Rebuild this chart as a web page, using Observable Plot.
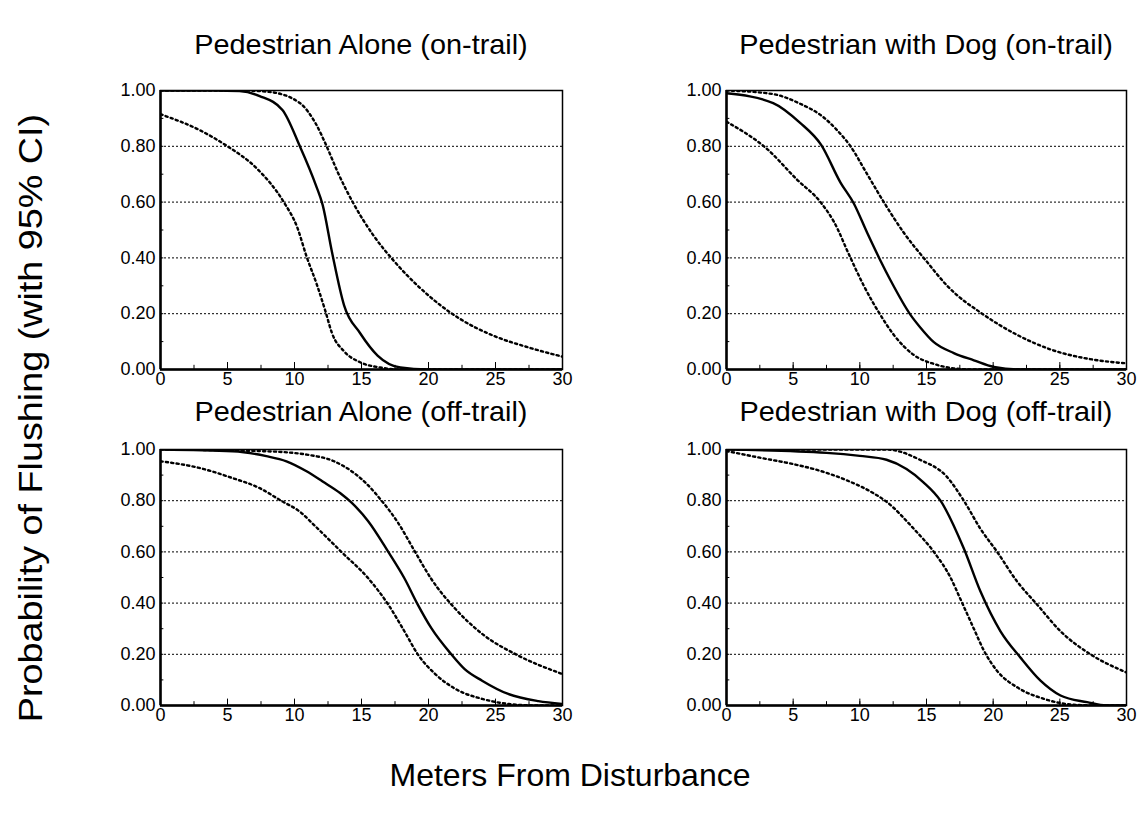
<!DOCTYPE html>
<html>
<head>
<meta charset="utf-8">
<script src="https://cdn.jsdelivr.net/npm/d3@7"></script>
<script src="https://cdn.jsdelivr.net/npm/@observablehq/plot@0.6"></script>
<style>
  html, body { margin: 0; padding: 0; background: #fff; }
  #wrap { position: relative; width: 1140px; height: 828px; background: #fff; font-family: "Liberation Sans", Arial, sans-serif; color: #000; overflow: hidden; }
  .panel { position: absolute; }
  .title { position: absolute; font-size: 28px; text-align: center; white-space: nowrap; transform: translate(-50%, -50%) scaleX(1.03); }
  #xlabel { position: absolute; left: 570px; top: 775px; font-size: 32px; transform: translate(-50%, -50%); white-space: nowrap; }
  #ylabel { position: absolute; left: 30px; top: 418px; font-size: 34px; transform: translate(-50%, -50%) rotate(-90deg) scale(1.11, 1); white-space: nowrap; }
</style>
</head>
<body>
<div id="wrap">
  <div id="ylabel">Probability of Flushing (with 95% CI)</div>
  <div id="xlabel">Meters From Disturbance</div>
</div>
<script>
// ---------- data ----------
const panelTitles = ["Pedestrian Alone (on-trail)", "Pedestrian with Dog (on-trail)", "Pedestrian Alone (off-trail)", "Pedestrian with Dog (off-trail)"];
const xTicks = [0, 5, 10, 15, 20, 25, 30];
const yTicks = [0, 0.2, 0.4, 0.6, 0.8, 1.0];
const gridTicks = [0.2, 0.4, 0.6, 0.8];
const xMinorTicks = [0, 2.5, 5, 7.5, 10, 12.5, 15, 17.5, 20, 22.5, 25, 27.5, 30];
const yMinorTicks = [0.1, 0.2, 0.3, 0.4, 0.5, 0.6, 0.7, 0.8, 0.9];

// Pedestrian Alone (on-trail)
const aloneOnEstD = [0, 4, 5.9, 7.4, 9.1, 10.4, 11.6, 12.1, 12.8, 13.7, 14.9, 16.2, 17.9, 19.9, 30];
const aloneOnEstP = [1.0, 1.0, 0.998, 0.98, 0.93, 0.80, 0.66, 0.59, 0.42, 0.23, 0.13, 0.05, 0.007, 0.0, 0.0];
const aloneOnUpD = [0, 6, 8.1, 10.4, 11.6, 12.4, 13.2, 14.4, 15.9, 17.4, 19.2, 20.9, 22.4, 24.9, 27.4, 30];
const aloneOnUpP = [1.0, 1.0, 0.995, 0.955, 0.88, 0.80, 0.71, 0.595, 0.48, 0.39, 0.30, 0.23, 0.18, 0.12, 0.08, 0.046];
const aloneOnLoD = [0, 3, 5, 7.2, 9.2, 10.2, 10.9, 11.7, 12.3, 12.8, 13.7, 14.9, 16.4, 18, 30];
const aloneOnLoP = [0.915, 0.856, 0.80, 0.72, 0.60, 0.51, 0.405, 0.30, 0.21, 0.13, 0.065, 0.026, 0.007, 0.0, 0.0];

// Pedestrian with Dog (on-trail)
const dogOnEstD = [0, 3.5, 5.5, 7.1, 8.55, 9.55, 10.55, 11.55, 12.3, 13.8, 14.55, 15.55, 17.05, 18.55, 20.05, 21.8, 30];
const dogOnEstP = [0.99, 0.955, 0.885, 0.805, 0.67, 0.595, 0.49, 0.39, 0.32, 0.196, 0.15, 0.098, 0.059, 0.033, 0.009, 0.0, 0.0];
const dogOnUpD = [0, 3.5, 5.5, 7.25, 8.25, 9.3, 10.55, 11.8, 13.3, 15.05, 16.55, 19.3, 21.8, 24.3, 27.55, 30];
const dogOnUpP = [1.0, 0.987, 0.953, 0.905, 0.86, 0.80, 0.70, 0.60, 0.49, 0.385, 0.30, 0.196, 0.124, 0.072, 0.035, 0.022];
const dogOnLoD = [0, 3.05, 5.3, 7.05, 8.05, 9.3, 10.3, 11.55, 12.55, 14.05, 15.55, 17.05, 18.5, 30];
const dogOnLoP = [0.888, 0.79, 0.68, 0.60, 0.53, 0.40, 0.30, 0.195, 0.124, 0.052, 0.02, 0.004, 0.0, 0.0];

// Pedestrian Alone (off-trail)
const aloneOffEstD = [0, 5.4, 7.9, 9.4, 10.9, 12.1, 13.4, 14.2, 15.5, 17.0, 18.2, 19.2, 20.2, 21.7, 22.7, 24.0, 25.95, 28.2, 30];
const aloneOffEstP = [1.0, 0.993, 0.974, 0.954, 0.915, 0.875, 0.83, 0.795, 0.72, 0.60, 0.497, 0.394, 0.303, 0.20, 0.142, 0.097, 0.045, 0.017, 0.006];
const aloneOffUpD = [0, 7.9, 10.9, 12.9, 14.4, 15.4, 16.5, 17.7, 19.0, 20.2, 21.96, 24.0, 26.7, 30];
const aloneOffUpP = [1.0, 0.993, 0.98, 0.955, 0.91, 0.865, 0.80, 0.716, 0.60, 0.495, 0.38, 0.28, 0.195, 0.123];
const aloneOffLoD = [0, 2.9, 5.4, 7.4, 9.0, 10.4, 11.5, 13.5, 15.5, 17.0, 18.2, 19.2, 20.5, 22.0, 24.0, 26.0, 28.0, 30];
const aloneOffLoP = [0.954, 0.928, 0.888, 0.849, 0.80, 0.757, 0.703, 0.60, 0.497, 0.394, 0.29, 0.20, 0.123, 0.065, 0.026, 0.006, 0.0, 0.0];

// Pedestrian with Dog (off-trail)
const dogOffEstD = [0, 7.5, 10, 12, 13.5, 14.75, 16.05, 17.8, 19.05, 20.55, 22.05, 23.55, 25.05, 27.05, 28.5, 30];
const dogOffEstP = [1.0, 0.987, 0.975, 0.96, 0.924, 0.873, 0.80, 0.613, 0.445, 0.29, 0.187, 0.097, 0.039, 0.013, 0.0, 0.0];
const dogOffUpD = [0, 12, 14.5, 16.5, 17.8, 19.05, 20.3, 21.8, 23.3, 25.05, 27.3, 30];
const dogOffUpP = [1.0, 1.0, 0.96, 0.895, 0.80, 0.69, 0.60, 0.484, 0.394, 0.29, 0.20, 0.129];
const dogOffLoD = [0, 2.5, 5, 7, 9, 11, 11.9, 14.05, 15.55, 16.8, 17.55, 18.55, 19.3, 20.3, 21.8, 23.8, 26.05, 28, 30];
const dogOffLoP = [0.994, 0.968, 0.943, 0.917, 0.88, 0.83, 0.80, 0.69, 0.60, 0.50, 0.415, 0.30, 0.215, 0.135, 0.071, 0.026, 0.003, 0.0, 0.0];

// ---------- build ----------
const toRows = (d, p) => d.map((x, i) => ({x, p: p[i]}));
const panels = [
  {title: panelTitles[0], est: toRows(aloneOnEstD, aloneOnEstP), up: toRows(aloneOnUpD, aloneOnUpP), lo: toRows(aloneOnLoD, aloneOnLoP), left: 100, top: 70, w: 402, h: 279, titleY: 45},
  {title: panelTitles[1], est: toRows(dogOnEstD, dogOnEstP), up: toRows(dogOnUpD, dogOnUpP), lo: toRows(dogOnLoD, dogOnLoP), left: 666, top: 70, w: 400, h: 279, titleY: 45},
  {title: panelTitles[2], est: toRows(aloneOffEstD, aloneOffEstP), up: toRows(aloneOffUpD, aloneOffUpP), lo: toRows(aloneOffLoD, aloneOffLoP), left: 100, top: 429, w: 402, h: 256, titleY: 412},
  {title: panelTitles[3], est: toRows(dogOffEstD, dogOffEstP), up: toRows(dogOffUpD, dogOffUpP), lo: toRows(dogOffLoD, dogOffLoP), left: 666, top: 429, w: 400, h: 256, titleY: 412}
];

const wrap = document.getElementById("wrap");
const mL = 60, mT = 20, mR = 16, mB = 40;

panels.forEach(pn => {
  const chart = Plot.plot({
    width: mL + pn.w + mR,
    height: mT + pn.h + mB,
    marginLeft: mL, marginTop: mT, marginRight: mR, marginBottom: mB,
    style: {fontFamily: '"Liberation Sans", Arial, sans-serif', fontSize: "18px", color: "#000", background: "transparent", overflow: "visible"},
    x: {domain: [0, 30], ticks: xTicks, tickSize: 0, tickPadding: 3, label: null},
    y: {domain: [0, 1], ticks: yTicks, tickFormat: d3.format(".2f"), tickSize: 0, tickPadding: 5, label: null},
    marks: [
      Plot.ruleY(gridTicks, {stroke: "#000", strokeWidth: 1, strokeDasharray: "2,2"}),
      Plot.ruleX(xMinorTicks, {y1: 0, y2: 0.015, stroke: "#000", strokeWidth: 1}),
      Plot.ruleX(xTicks, {y1: 0, y2: 0.025, stroke: "#000", strokeWidth: 1}),
      Plot.ruleY(yMinorTicks, {x1: 0, x2: 0.25, stroke: "#000", strokeWidth: 1}),
      Plot.line(pn.lo, {x: "x", y: "p", curve: "monotone-x", stroke: "#000", strokeWidth: 2.4, strokeDasharray: "2.2,3.2", clip: true}),
      Plot.line(pn.up, {x: "x", y: "p", curve: "monotone-x", stroke: "#000", strokeWidth: 2.4, strokeDasharray: "2.2,3.2", clip: true}),
      Plot.line(pn.est, {x: "x", y: "p", curve: "monotone-x", stroke: "#000", strokeWidth: 2.4, clip: true}),
      Plot.frame({stroke: "#000", strokeWidth: 1.5}),
      Plot.ruleX([0], {stroke: "#000", strokeWidth: 2.5}),
      Plot.ruleY([0], {stroke: "#000", strokeWidth: 2.5})
    ]
  });
  chart.classList.add("panel");
  chart.style.left = pn.left + "px";
  chart.style.top = pn.top + "px";
  wrap.appendChild(chart);

  const t = document.createElement("div");
  t.className = "title";
  t.textContent = pn.title;
  t.style.left = (pn.left + mL + pn.w / 2) + "px";
  t.style.top = pn.titleY + "px";
  wrap.appendChild(t);
});
</script>
</body>
</html>
